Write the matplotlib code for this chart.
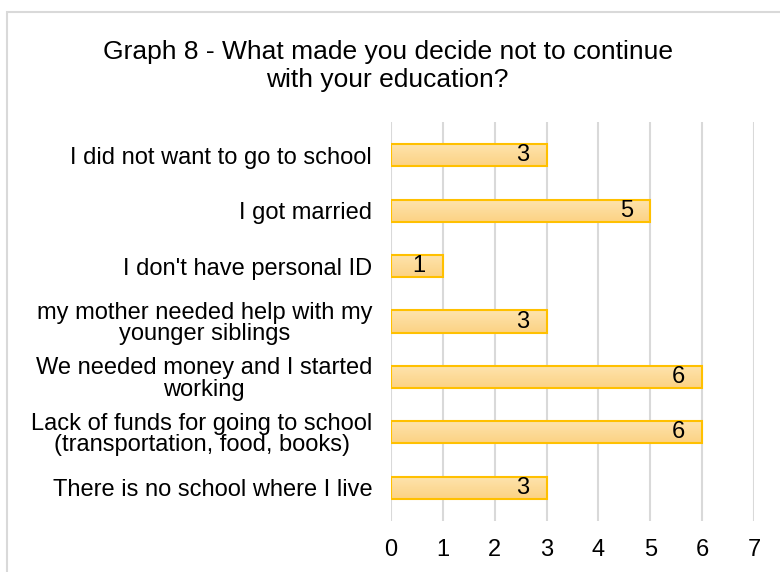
import numpy as np
import matplotlib
matplotlib.use("Agg")
import matplotlib.pyplot as plt
from matplotlib.patches import Rectangle

plt.rcParams['font.family'] = ['Liberation Sans', 'DejaVu Sans']

# reasons, listed bottom to top as drawn on the y axis
reasons = [
    "There is no school where I live",
    "Lack of funds for going to school\n(transportation, food, books)",
    "We needed money and I started\nworking",
    "my mother needed help with my\nyounger siblings",
    "I don't have personal ID",
    "I got married",
    "I did not want to go to school",
]
counts = [3, 6, 6, 3, 1, 5, 3]
x_ticks = [0, 1, 2, 3, 4, 5, 6, 7]

fig = plt.figure(figsize=(7.8, 5.72), dpi=100)
ax = fig.add_axes([391 / 780, 1 - 521 / 572, 363 / 780, 399 / 572])

# outer chart frame
fig.patches.append(Rectangle((7 / 780, -0.01), 1.0, 1 - 12 / 572 + 0.01,
                             transform=fig.transFigure, fill=False,
                             edgecolor='#D9D9D9', linewidth=1.5))

y = np.arange(len(reasons))
bar_h = 0.4
bars = ax.barh(y, counts, height=bar_h, color='none', edgecolor='#FFC000',
               linewidth=1.5, zorder=3)

# soft vertical gradient inside each bar
grad = np.linspace(0, 1, 64).reshape(-1, 1)
cmap = matplotlib.colors.LinearSegmentedColormap.from_list(
    'gold', ['#FEE4AE', '#FCD284'])
for b in bars:
    x0, y0 = b.get_x(), b.get_y()
    w, h = b.get_width(), b.get_height()
    im = ax.imshow(grad, cmap=cmap, aspect='auto', zorder=2,
                   extent=[x0, x0 + w, y0, y0 + h], origin='upper')
    im.set_clip_path(b)

for yi, v in zip(y, counts):
    ax.text(v - 0.33, yi, str(v), ha='right', va='center', fontsize=17,
            color='black', zorder=4)

ax.set_xlim(0, 7)
ax.set_ylim(-0.6, len(reasons) - 0.4)
ax.set_xticks(x_ticks)
ax.set_xticklabels([str(t) for t in x_ticks], fontsize=17)
ax.set_yticks(y)
ax.set_yticklabels(reasons, fontsize=17, multialignment='center',
                   linespacing=0.95)
ax.tick_params(axis='both', length=0)
ax.tick_params(axis='x', pad=13)
ax.tick_params(axis='y', pad=13.5)
ax.xaxis.grid(True, color='#D9D9D9', linewidth=1.5, zorder=0)
ax.set_axisbelow(True)
for s in ax.spines.values():
    s.set_visible(False)

fig.text(0.497, 1 - 66 / 572, "Graph 8 - What made you decide not to continue\nwith your education?",
         ha='center', va='center', fontsize=19, multialignment='center')

fig.savefig("out.png", dpi=100)
